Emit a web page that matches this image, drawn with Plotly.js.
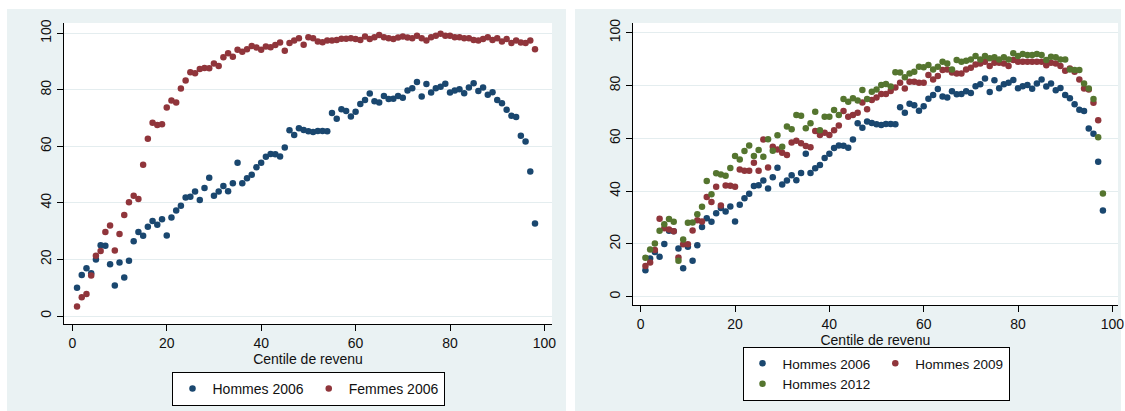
<!DOCTYPE html>
<html>
<head>
<meta charset="utf-8">
<script src="https://cdn.plot.ly/plotly-3.0.1.min.js"></script>
<style>html,body{margin:0;padding:0;background:#fff;}#chart{width:1125px;height:411px;}</style>
</head>
<body>
<div id="chart"></div>
<script>
// Centiles de revenu (axe x)
const centiles = [1,2,3,4,5,6,7,8,9,10,11,12,13,14,15,16,17,18,19,20,21,22,23,24,25,26,27,28,29,30,31,32,33,34,35,36,37,38,39,40,41,42,43,44,45,46,47,48,49,50,51,52,53,54,55,56,57,58,59,60,61,62,63,64,65,66,67,68,69,70,71,72,73,74,75,76,77,78,79,80,81,82,83,84,85,86,87,88,89,90,91,92,93,94,95,96,97,98];

const hommes2006 = [10.0,14.5,16.9,15.1,20.0,25.0,24.8,18.3,10.8,18.9,13.6,19.5,26.4,29.7,28.4,31.6,33.6,32.3,34.2,28.5,34.8,37.3,39.0,41.9,42.2,44.0,41.0,45.3,48.9,42.5,44.0,46.0,44.1,46.9,54.2,46.9,48.7,49.9,52.6,54.2,56.3,57.3,57.2,56.4,59.6,65.7,64.0,66.4,65.8,65.3,65.1,65.4,65.4,65.3,71.8,69.7,73.1,72.5,70.5,72.2,75.0,76.4,78.7,75.9,75.5,77.8,76.7,76.8,77.8,77.2,79.7,80.5,82.7,77.6,82.0,79.0,80.5,81.1,82.1,79.0,79.7,80.2,78.8,80.8,82.3,79.6,80.8,78.2,79.1,76.4,75.2,72.9,70.8,70.4,63.7,61.7,51.1,32.7];

const femmes2006 = [3.4,6.6,7.8,14.3,21.3,23.0,29.7,32.0,23.2,29.0,35.7,40.2,42.5,41.4,53.5,62.7,68.3,67.5,67.8,73.7,76.2,75.5,80.4,83.3,86.2,85.8,87.3,87.7,87.6,89.3,88.4,91.5,92.9,91.7,94.1,93.4,94.3,95.5,94.9,94.1,95.3,95.0,95.8,96.7,93.8,96.5,97.4,98.2,95.9,98.6,98.2,97.1,96.8,97.4,97.4,97.6,98.0,98.0,98.2,97.9,97.6,98.8,97.9,98.6,99.4,98.6,98.2,97.9,98.5,98.8,98.5,98.2,99.1,98.2,97.4,98.6,99.1,99.8,99.1,99.1,98.6,98.6,98.2,98.2,97.6,97.4,97.9,98.6,97.6,98.2,97.1,97.9,96.5,97.4,96.7,96.5,97.4,94.3];

const hommes2009 = [11.6,13.0,17.7,29.5,25.9,25.5,24.8,14.9,19.9,19.9,25.1,29.0,28.5,37.8,35.9,41.7,34.6,42.1,42.0,41.7,48.2,47.7,47.7,50.8,47.7,59.6,49.0,56.8,55.8,54.5,53.7,58.4,59.1,58.1,57.1,56.6,62.8,61.3,62.1,61.3,63.1,64.9,70.4,68.2,68.8,69.7,73.6,71.0,74.5,75.5,76.8,76.8,77.9,79.3,81.1,78.9,81.4,81.4,81.1,81.1,84.0,82.3,83.6,85.9,86.1,84.9,84.6,84.6,86.1,86.7,88.0,88.4,89.0,87.4,88.6,88.6,88.4,87.4,89.7,89.0,89.0,89.0,89.0,89.0,89.0,87.7,88.6,88.4,87.4,85.6,86.5,85.2,82.3,78.9,78.5,73.5,66.9];

const hommes2012 = [14.8,17.9,20.2,25.0,27.5,29.4,28.4,13.6,21.7,28.0,28.1,31.2,34.1,43.8,38.8,46.8,46.3,45.8,48.8,53.3,52.0,55.2,57.3,53.3,55.6,53.0,59.7,55.3,61.2,56.8,64.5,63.4,68.8,68.6,63.8,65.7,70.1,63.1,68.2,68.2,70.7,68.8,74.9,73.9,75.2,74.3,78.3,74.9,77.7,78.5,80.2,80.6,79.6,85.0,84.9,83.1,84.6,85.2,87.1,86.9,87.8,86.1,87.1,89.0,88.4,86.1,89.7,89.0,89.4,89.9,91.2,89.9,91.2,90.3,90.7,89.9,90.7,89.9,92.2,91.2,92.0,91.6,91.6,92.0,91.6,89.7,90.9,90.7,89.9,89.9,86.1,85.9,85.9,80.8,78.9,74.9,60.4,39.1];

const tickValsX = [0,20,40,60,80,100];
const tickValsY = [0,20,40,60,80,100];
const xTitle = 'Centile de revenu';

const NAVY = '#1A476F', MAROON = '#90353B', GREEN = '#55752F';
const PANEL = '#EAF2F3', GRID = '#E4EDEF';
const FONT = {family: 'Liberation Sans, Arial, sans-serif', size: 14, color: '#111'};
const MS = 6.5;

function mk(x, y, name, color, xa, ya, legend, group) {
  const t = {x: x, y: y, name: name, type: 'scatter', mode: 'markers',
    marker: {color: color, size: MS, line: {width: 0}},
    xaxis: xa, yaxis: ya, legend: legend, hoverinfo: 'x+y'};
  if (group) t.legendgroup = group;
  return t;
}

const data = [
  mk(centiles, hommes2006, 'Hommes 2006', NAVY, 'x', 'y', 'legend'),
  mk(centiles, femmes2006, 'Femmes 2006', MAROON, 'x', 'y', 'legend'),
  mk(centiles, hommes2006, 'Hommes 2006', NAVY, 'x2', 'y2', 'legend2', 'g1'),
  mk(centiles.slice(0, hommes2009.length), hommes2009, 'Hommes 2009', MAROON, 'x2', 'y2', 'legend2', 'g2'),
  mk(centiles, hommes2012, 'Hommes 2012', GREEN, 'x2', 'y2', 'legend2', 'g1')
];

function xax(domain, range, anchor) {
  return {domain: domain, range: range, anchor: anchor, tickvals: tickValsX,
    ticks: 'outside', ticklen: 6, tickcolor: '#000', tickwidth: 1,
    showline: true, linecolor: '#000', linewidth: 1, showgrid: false, zeroline: false,
    tickfont: FONT, title: {text: xTitle, font: FONT, standoff: 2}, fixedrange: true};
}
function yax(domain, range, anchor) {
  return {domain: domain, range: range, anchor: anchor, tickvals: tickValsY,
    tickangle: -90, ticks: 'outside', ticklen: 6, tickcolor: '#000', tickwidth: 1,
    showline: true, linecolor: '#000', linewidth: 1, showgrid: true, gridcolor: GRID, gridwidth: 1,
    zeroline: false, tickfont: FONT, fixedrange: true};
}

const W = 1125, H = 411;
const layout = {
  width: W, height: H,
  margin: {l: 0, r: 0, t: 0, b: 0, pad: 0},
  paper_bgcolor: '#ffffff', plot_bgcolor: '#ffffff',
  font: FONT,
  showlegend: true,
  xaxis: xax([64/W, 552/W], [-1.76, 101.6], 'y'),
  yaxis: yax([(H-324)/H, (H-23)/H], [-2.83, 103.6], 'x'),
  xaxis2: xax([632.7/W, 1118/W], [-1.7, 101.2], 'y2'),
  yaxis2: yax([(H-305)/H, (H-23)/H], [-3.14, 103.7], 'x2'),
  legend: {orientation: 'h', x: 308/W, xanchor: 'center', y: (H-372)/H, yanchor: 'top',
    bgcolor: '#fff', bordercolor: '#000', borderwidth: 1, font: FONT, itemwidth: 30},
  legend2: {orientation: 'h', x: 876/W, xanchor: 'center', y: (H-347)/H, yanchor: 'top',
    bgcolor: '#fff', bordercolor: '#000', borderwidth: 1,
    font: {family: FONT.family, size: 13.5, color: FONT.color}, itemwidth: 30,
    traceorder: 'grouped', tracegroupgap: 0},
  shapes: [
    {type: 'rect', xref: 'paper', yref: 'paper', x0: 7/W, x1: 566/W, y0: 0, y1: (H-9)/H,
      fillcolor: PANEL, line: {width: 0}, layer: 'below'},
    {type: 'rect', xref: 'paper', yref: 'paper', x0: 575/W, x1: 1121/W, y0: 0, y1: (H-9)/H,
      fillcolor: PANEL, line: {width: 0}, layer: 'below'},
    {type: 'rect', xref: 'x domain', yref: 'y domain', x0: 0, x1: 1, y0: 0, y1: 1,
      fillcolor: '#fff', line: {width: 0}, layer: 'below'},
    {type: 'rect', xref: 'x2 domain', yref: 'y2 domain', x0: 0, x1: 1, y0: 0, y1: 1,
      fillcolor: '#fff', line: {width: 0}, layer: 'below'}
  ]
};

Plotly.newPlot('chart', data, layout, {displayModeBar: false, staticPlot: true});
</script>
</body>
</html>
